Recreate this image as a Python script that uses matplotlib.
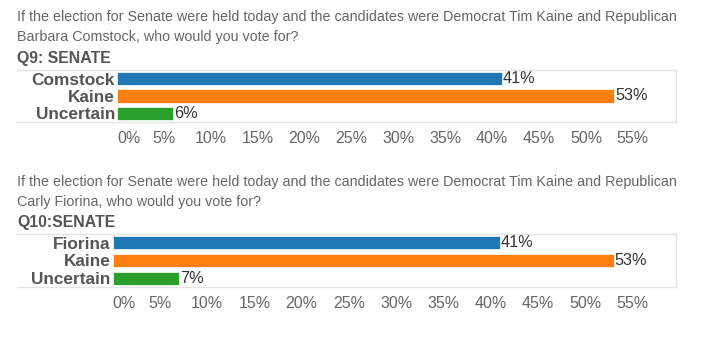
import matplotlib
matplotlib.use("Agg")
import matplotlib.pyplot as plt
from matplotlib.lines import Line2D

plt.rcParams['font.family'] = ['Liberation Sans', 'DejaVu Sans']

# data
q9_question = ["If the election for Senate were held today and the candidates were Democrat Tim Kaine and Republican",
               "Barbara Comstock, who would you vote for?"]
q9_title = "Q9: SENATE"
q9_names = ["Comstock", "Kaine", "Uncertain"]
q9_values = [41, 53, 6]

q10_question = ["If the election for Senate were held today and the candidates were Democrat Tim Kaine and Republican",
                "Carly Fiorina, who would you vote for?"]
q10_title = "Q10:SENATE"
q10_names = ["Fiorina", "Kaine", "Uncertain"]
q10_values = [41, 53, 7]

tick_values = [0, 5, 10, 15, 20, 25, 30, 35, 40, 45, 50, 55]
colors = ["#1f77b4", "#ff7f0e", "#2ca02c"]

W, H = 719, 343
fig = plt.figure(figsize=(W / 100, H / 100), dpi=100)


def fx(x):
    return x / W


def fy(y):
    return 1 - y / H


def panel(question, title, names, values, text_y, title_y, box_top, box_bot, x0):
    for i, line in enumerate(question):
        fig.text(fx(17), fy(text_y + 20 * i), line, fontsize=10.3, color="#666666",
                 ha="left", va="center")
    fig.text(fx(17), fy(title_y), title, fontsize=11.4, fontweight="bold",
             color="#555555", ha="left", va="center")

    # light frame around the bars
    fig.add_artist(Line2D([fx(17), fx(676)], [fy(box_top)] * 2, color="#e4e4e4", lw=1))
    fig.add_artist(Line2D([fx(17), fx(676)], [fy(box_bot)] * 2, color="#e4e4e4", lw=1))
    fig.add_artist(Line2D([fx(676)] * 2, [fy(box_top), fy(box_bot)], color="#e4e4e4", lw=1))

    ax = fig.add_axes([fx(x0), fy(box_bot), fx(676) - fx(x0), (box_bot - box_top) / H])
    pos = list(range(len(names)))
    ax.barh(pos, values, height=0.76, color=colors, edgecolor="white", linewidth=0.5)
    for p, v in zip(pos, values):
        ax.text(v + 0.1, p, f"{v}%", fontsize=11.7, color="#333333", ha="left", va="center")
    ax.set_xlim(0, 59.6)
    ax.set_ylim(2.486, -0.486)
    ax.set_yticks(pos)
    ax.set_yticklabels(names, fontsize=12.4, fontweight="bold", color="#555555")
    ax.set_xticks(tick_values)
    labels = ax.set_xticklabels([f"{t}%" for t in tick_values], fontsize=11.5, color="#666666")
    labels[0].set_horizontalalignment("left")
    ax.tick_params(axis="y", length=0, pad=1.5)
    ax.tick_params(axis="x", length=0, pad=6.5)
    for s in ax.spines.values():
        s.set_visible(False)
    ax.patch.set_alpha(0)
    return ax


panel(q9_question, q9_title, q9_names, q9_values, 17, 58, 70, 122, 117)
panel(q10_question, q10_title, q10_names, q10_values, 182, 223, 234, 287, 112.5)

fig.savefig("out.png", dpi=100)
